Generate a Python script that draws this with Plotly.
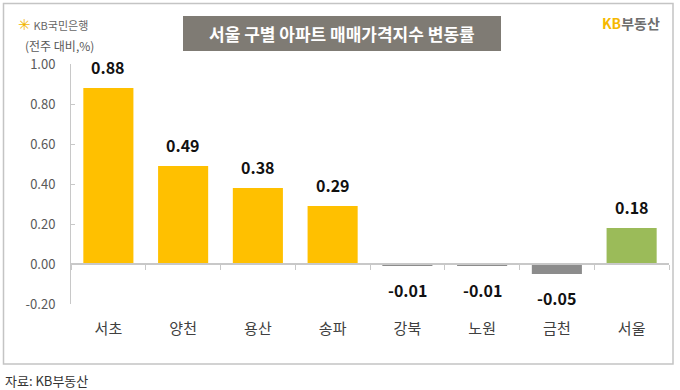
import plotly.graph_objects as go

categories = ["서초", "양천", "용산", "송파", "강북", "노원", "금천", "서울"]
values = [0.88, 0.49, 0.38, 0.29, -0.01, -0.01, -0.05, 0.18]
bar_colors = ["#FFC000", "#FFC000", "#FFC000", "#FFC000", "#8C8C8C", "#8C8C8C", "#8C8C8C", "#9BBB59"]
tick_vals = [-0.2, 0.0, 0.2, 0.4, 0.6, 0.8, 1.0]
tick_text = ["-0.20", "0.00", "0.20", "0.40", "0.60", "0.80", "1.00"]

W, H = 680, 390
L, R, T, B = 71, 11, 64, 86
PW, PH = W - L - R, H - T - B
FONT = "Noto Sans CJK KR"


def px(x):
    return (x - L) / PW


def py(y):
    return (H - B - y) / PH


fig = go.Figure()
fig.add_trace(go.Bar(
    x=categories, y=values, marker=dict(color=bar_colors, line=dict(width=0)),
    width=0.67, hoverinfo="x+y", showlegend=False,
))
# helper trace for the category axis drawn at y = 0
fig.add_trace(go.Scatter(
    x=categories, y=[0] * len(categories), xaxis="x2", mode="markers",
    marker=dict(opacity=0), hoverinfo="skip", showlegend=False,
))

for c, v in zip(categories, values):
    fig.add_annotation(
        x=c, y=v, text="<b>%.2f</b>" % v, showarrow=False,
        yanchor="bottom" if v >= 0 else "top",
        yshift=7 if v >= 0 else -10,
        font=dict(family=FONT, size=16, color="#111111"),
    )

zero_pos = 0.2 / 1.2

fig.update_layout(
    width=W, height=H,
    margin=dict(l=L, r=R, t=T, b=B),
    paper_bgcolor="white", plot_bgcolor="white",
    font=dict(family=FONT),
    bargap=0.33,
    xaxis=dict(
        type="category", categoryorder="array", categoryarray=categories,
        range=[-0.5, 7.5], showline=False, ticks="", showgrid=False,
        tickfont=dict(family=FONT, size=15, color="#404040"),
        ticklabelstandoff=14, zeroline=False,
    ),
    xaxis2=dict(
        type="category", categoryorder="array", categoryarray=categories,
        range=[-0.5, 7.5], overlaying="x", anchor="free", position=zero_pos,
        showline=True, linecolor="#C8C8C8", linewidth=1.5,
        ticks="outside", tickson="boundaries", ticklen=5, tickcolor="#C8C8C8",
        showticklabels=False, showgrid=False,
    ),
    yaxis=dict(
        range=[-0.2, 1.0], tickvals=tick_vals, ticktext=tick_text,
        showgrid=False, zeroline=False, showline=True, linecolor="#C8C8C8",
        linewidth=1, ticks="inside", ticklen=4, tickcolor="#C8C8C8",
        tickfont=dict(family=FONT, size=13, color="#595959"),
        ticklabelstandoff=12,
    ),
    shapes=[
        dict(type="rect", xref="paper", yref="paper",
             x0=px(3.5), x1=px(673), y0=py(364), y1=py(3.5),
             line=dict(color="#C4C4C4", width=1.5), fillcolor="rgba(0,0,0,0)", layer="above"),
        dict(type="rect", xref="paper", yref="paper",
             x0=px(183), x1=px(501), y0=py(51), y1=py(16),
             line=dict(width=0), fillcolor="#7F7B74"),
    ],
)

annos = [
    dict(x=px(342), y=py(33.5), text="<b>서울 구별 아파트 매매가격지수 변동률</b>",
         xanchor="center", yanchor="middle", font=dict(size=17, color="white", family=FONT)),
    dict(x=px(16), y=py(24), text="<span style='color:#F2B600;font-size:15px'>✳</span> <span style='color:#666666'>KB국민은행</span>",
         xanchor="left", yanchor="middle", font=dict(size=11, family=FONT)),
    dict(x=px(23), y=py(45), text="(전주 대비,%)", xanchor="left", yanchor="middle",
         font=dict(size=12, color="#595959", family=FONT)),
    dict(x=px(600), y=py(23), text="<b><span style='color:#F5B800'>KB</span><span style='color:#6E6E6E'>부동산</span></b>",
         xanchor="left", yanchor="middle", font=dict(size=14, family=FONT)),
    dict(x=px(3), y=py(380), text="자료: KB부동산", xanchor="left", yanchor="middle",
         font=dict(size=13, color="#333333", family=FONT)),
]
for a in annos:
    fig.add_annotation(xref="paper", yref="paper", showarrow=False, **a)

fig.write_html("out.html", config={"displayModeBar": False},
               post_script="document.body.style.margin='0';document.body.style.overflow='hidden';")
